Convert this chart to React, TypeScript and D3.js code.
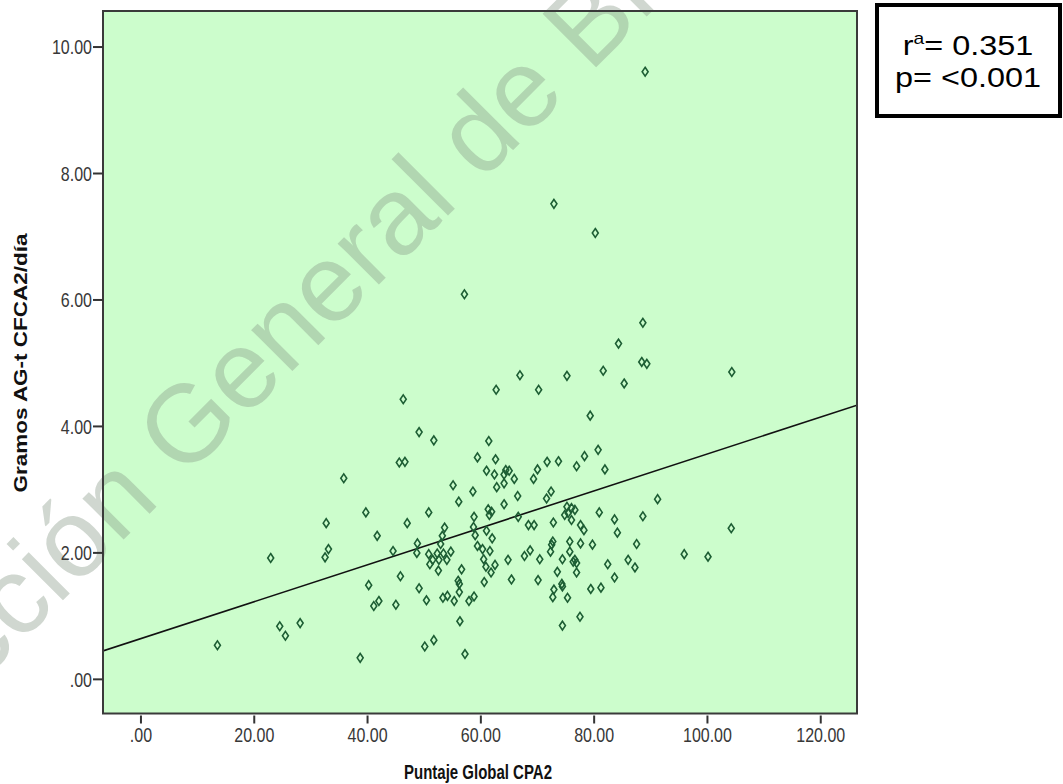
import React from "react";
import * as d3 from "d3";

// ---- data ----
const puntajeGlobal: number[] = [
  89.0, 72.9, 80.2, 57.1, 88.6, 84.3, 88.4, 89.3, 104.3, 66.9,
  75.2, 81.6, 85.3, 62.7, 70.2, 79.3, 80.7, 78.3, 76.9, 81.9,
  71.7, 73.7, 71.6, 72.4, 91.2, 75.2, 76.0, 76.6, 75.4, 74.8,
  76.0, 80.9, 88.6, 72.8, 83.6, 77.6, 78.2, 84.1, 72.7, 72.5,
  75.7, 77.6, 79.7, 87.5, 72.3, 75.7, 70.4, 74.4, 76.3, 76.6,
  76.9, 86.0, 87.2, 82.4, 76.9, 73.5, 83.6, 74.3, 74.4, 72.9,
  72.7, 75.3, 79.4, 81.2, 77.5, 74.4, 70.1, 46.3, 49.1, 51.7,
  45.6, 46.6, 61.4, 59.4, 62.6, 61.0, 62.4, 64.1, 65.0, 64.4,
  65.9, 64.1, 62.8, 70.0, 69.3, 55.1, 58.6, 56.1, 66.5, 64.1,
  50.8, 61.3, 61.9, 61.5, 58.8, 66.6, 47.0, 68.4, 69.4, 53.6,
  58.7, 61.0, 53.2, 59.0, 62.0, 48.8, 52.9, 59.4, 48.7, 50.8,
  52.3, 53.4, 54.7, 60.3, 61.6, 51.5, 52.6, 54.0, 60.5, 51.0,
  60.9, 62.5, 61.8, 64.8, 67.7, 68.7, 52.5, 56.6, 45.8, 56.0,
  56.2, 60.6, 65.4, 49.1, 53.3, 54.1, 56.2, 50.4, 55.3, 57.9,
  58.8, 56.3, 50.1, 51.7, 57.2, 35.8, 39.7, 32.7, 41.7, 33.1,
  32.5, 44.5, 22.9, 40.2, 42.0, 41.1, 45.0, 24.5, 25.5, 28.1,
  13.5, 38.7, 95.9, 100.1, 104.2,
];
const gramosAGt: number[] = [
  9.61, 7.52, 7.06, 6.09, 5.64, 5.31, 5.02, 4.99, 4.86, 4.81,
  4.80, 4.88, 4.68, 4.58, 4.58, 4.17, 3.63, 3.53, 3.37, 3.32,
  3.44, 3.45, 2.86, 2.97, 2.85, 2.73, 2.71, 2.68, 2.63, 2.60,
  2.52, 2.64, 2.58, 2.48, 2.53, 2.44, 2.36, 2.32, 2.18, 2.13,
  2.18, 2.15, 2.13, 2.14, 2.02, 2.02, 1.90, 1.90, 1.86, 1.89,
  1.84, 1.89, 1.77, 1.82, 1.69, 1.70, 1.61, 1.51, 1.47, 1.42,
  1.30, 1.29, 1.43, 1.45, 0.99, 0.85, 1.57, 4.43, 3.91, 3.78,
  3.43, 3.44, 3.77, 3.51, 3.48, 3.30, 3.24, 3.24, 3.30, 3.31,
  3.17, 3.10, 3.04, 3.32, 3.17, 3.07, 2.97, 2.81, 2.90, 2.77,
  2.64, 2.69, 2.65, 2.60, 2.57, 2.57, 2.47, 2.44, 2.44, 2.40,
  2.41, 2.35, 2.27, 2.28, 2.23, 2.15, 2.14, 2.11, 2.00, 1.98,
  1.99, 1.99, 2.02, 2.06, 2.03, 1.89, 1.89, 1.89, 1.90, 1.82,
  1.78, 1.81, 1.69, 1.89, 1.95, 2.04, 1.72, 1.74, 1.63, 1.56,
  1.51, 1.54, 1.58, 1.44, 1.29, 1.32, 1.38, 1.25, 1.24, 1.24,
  1.31, 0.92, 0.52, 0.62, 0.40, 3.18, 2.64, 2.47, 2.27, 2.06,
  1.93, 2.03, 1.92, 1.49, 1.24, 1.16, 1.18, 0.84, 0.69, 0.89,
  0.54, 0.34, 1.98, 1.94, 2.39,
];
const xTicks: number[] = [0, 20, 40, 60, 80, 100, 120];
const yTicks: number[] = [0, 2, 4, 6, 8, 10];
const fitIntercept = 0.645;
const fitSlope = 0.0292;
const xTitle = "Puntaje Global CPA2";
const yTitle = "Gramos AG-t CFCA2/día";
const statsLines = ["0.351", "<0.001"];
const watermark = "Dirección General de Bibliotecas";

const W = 1063;
const H = 784;
const plot = { left: 103, right: 857, top: 11, bottom: 713.5 };

const x = d3.scaleLinear().domain([-6.7, 126.4]).range([plot.left, plot.right]);
const y = d3.scaleLinear().domain([-0.54, 10.57]).range([plot.bottom, plot.top]);

const fmt = (v: number) => {
  const s = d3.format(".2f")(v);
  return s.startsWith("0.") ? s.slice(1) : s;
};

const diamondType = {
  draw(ctx: any, size: number) {
    const h = Math.sqrt(size) * 0.62;
    const w = h * 0.68;
    ctx.moveTo(0, -h);
    ctx.lineTo(w, 0);
    ctx.lineTo(0, h);
    ctx.lineTo(-w, 0);
    ctx.closePath();
  },
};
const diamondPath = d3.symbol().type(diamondType as any).size(50)() as string;

export default function App() {
  const font = "'Liberation Sans', Arial, Helvetica, sans-serif";
  const lineX = x.domain();
  const linePath = d3.line<number>()
    .x((d) => x(d))
    .y((d) => y(fitIntercept + fitSlope * d))(lineX) as string;

  const stretch = 1.25;
  return (
    <svg
      width={W}
      height={H}
      viewBox={`0 0 ${W} ${H}`}
      style={{ position: "absolute", left: 0, top: 0, background: "#fff" }}
      fontFamily={font}
    >
      <rect x={0} y={0} width={W} height={H} fill="#ffffff" />
      <defs>
        <clipPath id="plotClip">
          <rect x={plot.left} y={plot.top} width={plot.right - plot.left} height={plot.bottom - plot.top} />
        </clipPath>
      </defs>
      <rect
        x={plot.left}
        y={plot.top}
        width={plot.right - plot.left}
        height={plot.bottom - plot.top}
        fill="#ccfdcc"
      />
      {/* watermark */}
      <g transform="translate(-162.6,826) rotate(-45)">
        <text x={0} y={0} fontSize={110} fill="#8a9a8a" fillOpacity={0.4} fontFamily={font}>
          {watermark}
        </text>
      </g>
      <g clipPath="url(#plotClip)">
        <path d={linePath} stroke="#111" strokeWidth={1.6} fill="none" />
        {puntajeGlobal.map((v, i) => (
          <path
            key={i}
            d={diamondPath}
            transform={`translate(${x(v)},${y(gramosAGt[i])})`}
            fill="none"
            stroke="#1d5e34"
            strokeWidth={1.6}
          />
        ))}
      </g>
      <rect
        x={plot.left}
        y={plot.top}
        width={plot.right - plot.left}
        height={plot.bottom - plot.top}
        fill="none"
        stroke="#3a3a3a"
        strokeWidth={2}
      />
      {/* y axis */}
      {yTicks.map((t) => (
        <g key={t} transform={`translate(0,${y(t)})`}>
          <line x1={plot.left - 10} x2={plot.left} stroke="#333" strokeWidth={2} />
          <text
            transform={`translate(${plot.left - 11},0) scale(1,${stretch})`}
            dy="0.36em"
            textAnchor="end"
            fontSize={16}
            fill="#383838"
          >
            {fmt(t)}
          </text>
        </g>
      ))}
      {/* x axis */}
      {xTicks.map((t) => (
        <g key={t} transform={`translate(${x(t)},0)`}>
          <line y1={plot.bottom + 2} y2={plot.bottom + 10} stroke="#333" strokeWidth={2} />
          <text
            transform={`translate(0,742) scale(1,${stretch})`}
            textAnchor="middle"
            fontSize={16}
            fill="#383838"
          >
            {fmt(t)}
          </text>
        </g>
      ))}
      <text
        transform="translate(478,779) scale(1,1.4)"
        textAnchor="middle"
        fontSize={15}
        fontWeight="bold"
        fill="#111"
      >
        {xTitle}
      </text>
      <text
        transform={`translate(27,${363}) rotate(-90) scale(${stretch},1)`}
        textAnchor="middle"
        fontSize={18}
        fontWeight="bold"
        fill="#111"
      >
        {yTitle}
      </text>
      {/* stats box */}
      <rect x={877} y={5} width={183} height={111} fill="#fff" stroke="#000" strokeWidth={4} />
      <text transform="translate(968,55) scale(1.2,1)" textAnchor="middle" fontSize={27} fill="#000">
        r<tspan fontSize={16} dy={-11}>a</tspan>
        <tspan dy={11}>= {statsLines[0]}</tspan>
      </text>
      <text transform="translate(968,87) scale(1.2,1)" textAnchor="middle" fontSize={27} fill="#000">
        p= {statsLines[1]}
      </text>
    </svg>
  );
}
